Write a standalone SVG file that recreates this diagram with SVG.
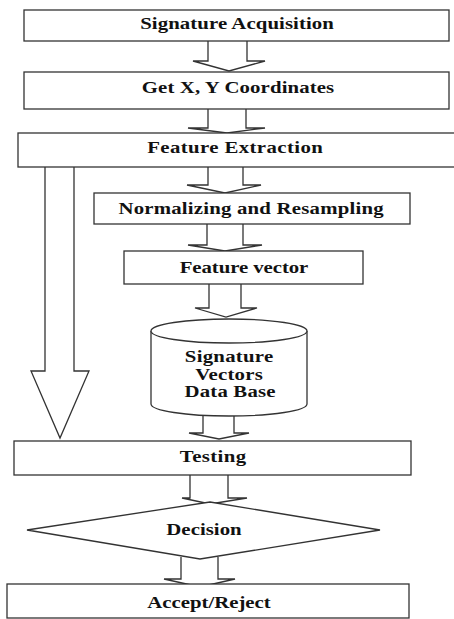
<svg xmlns="http://www.w3.org/2000/svg" width="454" height="619" viewBox="0 0 454 619">
<style>
.box{fill:#fff;stroke:#333;stroke-width:1.3}
.arr{fill:#fff;stroke:#333;stroke-width:1.3;stroke-linejoin:miter}
text{font-family:"Liberation Serif","DejaVu Serif","Times New Roman",serif;font-weight:bold;font-size:16px;fill:#111;text-anchor:middle}
</style>
<rect width="454" height="619" fill="#fff"/>
<g id="connectors">
<path class="arr" d="M208,41 L208,61 L193,61 L229,71 L265,61 L247,61 L247,41"/>
<path class="arr" d="M208,109 L208,128 L188,128 L227,133 L265,128 L246,128 L246,109"/>
<path class="arr" d="M45,167 L45,371 L31,371 L60,438 L89,371 L74,371 L74,167"/>
<path class="arr" d="M208,167 L208,185 L187,185 L225,193 L261,185 L243,185 L243,167"/>
<path class="arr" d="M207,224 L207,245 L188,245 L225,251 L262,245 L243,245 L243,224"/>
<path class="arr" d="M209,284 L209,308 L195,308 L226,317 L257,308 L241,308 L241,284"/>
<path class="arr" d="M203,416 L203,433 L189,433 L219,439 L249,433 L234,433 L234,416"/>
<path class="arr" d="M190,475 L190,498 L182,498 L210,504 L247,498 L228,498 L228,475"/>
<path class="arr" d="M181,557 L181,579 L164,579 L200,587 L235,579 L218,579 L218,557"/>
</g>
<g id="n1"><rect class="box" x="24" y="10" width="425" height="31"/><text transform="translate(237,29) scale(1.3,1)" textLength="149" lengthAdjust="spacing">Signature Acquisition</text></g>
<g id="n2"><rect class="box" x="24" y="72" width="425" height="37"/><text transform="translate(238,93) scale(1.3,1)" textLength="148" lengthAdjust="spacing">Get X, Y Coordinates</text></g>
<g id="n3"><rect class="box" x="18" y="133" width="445" height="34"/><text transform="translate(235,153) scale(1.3,1)" textLength="135" lengthAdjust="spacing">Feature Extraction</text></g>
<g id="n4"><rect class="box" x="94" y="193" width="316" height="31"/><text transform="translate(251,214) scale(1.3,1)" textLength="204" lengthAdjust="spacing">Normalizing and Resampling</text></g>
<g id="n5"><rect class="box" x="124" y="251" width="239" height="33"/><text transform="translate(244,273) scale(1.3,1)" textLength="99" lengthAdjust="spacing">Feature vector</text></g>
<g id="n6">
<path class="box" d="M151,331 L151,404 A78,12 0 0 0 307,404 L307,331"/>
<ellipse class="box" cx="229" cy="331" rx="78" ry="12"/>
<text transform="translate(229,362) scale(1.3,1)" textLength="68" lengthAdjust="spacing">Signature</text>
<text transform="translate(229,380) scale(1.3,1)" textLength="52" lengthAdjust="spacing">Vectors</text>
<text transform="translate(230,397) scale(1.3,1)" textLength="70" lengthAdjust="spacing">Data Base</text>
</g>
<g id="n7"><rect class="box" x="14" y="441" width="397" height="34"/><text transform="translate(213,462) scale(1.3,1)" textLength="51" lengthAdjust="spacing">Testing</text></g>
<g id="n8"><path class="box" d="M210,502 L380,530 L200,559 L27,530 Z"/><text transform="translate(204,535) scale(1.3,1)" textLength="58" lengthAdjust="spacing">Decision</text></g>
<g id="n9"><rect class="box" x="7" y="584" width="402" height="34"/><text transform="translate(209,608) scale(1.3,1)" textLength="95" lengthAdjust="spacing">Accept/Reject</text></g>
</svg>
